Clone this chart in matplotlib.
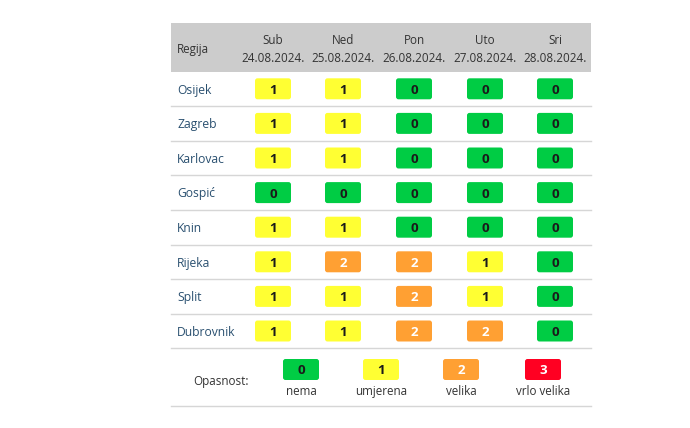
import matplotlib
matplotlib.use("Agg")
import matplotlib.pyplot as plt
from matplotlib.patches import FancyBboxPatch, Rectangle

plt.rcParams['font.family'] = ['Open Sans', 'DejaVu Sans']

# ---- data ----
regions = ["Osijek", "Zagreb", "Karlovac", "Gospić", "Knin", "Rijeka", "Split", "Dubrovnik"]
days = ["Sub", "Ned", "Pon", "Uto", "Sri"]
dates = ["24.08.2024.", "25.08.2024.", "26.08.2024.", "27.08.2024.", "28.08.2024."]
levels = [
    [1, 1, 0, 0, 0],
    [1, 1, 0, 0, 0],
    [1, 1, 0, 0, 0],
    [0, 0, 0, 0, 0],
    [1, 1, 0, 0, 0],
    [1, 2, 2, 1, 0],
    [1, 1, 2, 1, 0],
    [1, 1, 2, 2, 0],
]
legend_levels = [0, 1, 2, 3]
legend_labels = ["nema", "umjerena", "velika", "vrlo velika"]
header_label = "Regija"
legend_title = "Opasnost:"

# ---- style ----
fill = {0: "#00cc44", 1: "#ffff33", 2: "#ffa033", 3: "#ff0022"}
txtc = {0: "#1a1a1a", 1: "#1a1a1a", 2: "#ffffff", 3: "#ffffff"}

W, H = 690, 428
fig = plt.figure(figsize=(W / 100, H / 100), dpi=100)
ax = fig.add_axes([0, 0, 1, 1])
ax.set_xlim(0, W)
ax.set_ylim(H, 0)
ax.axis("off")

left, right = 171, 591
head_top, head_bot = 23, 71.5
row_h = 34.6
col_x = [273, 343, 414, 485, 555]
bw, bh = 36, 21
fs = 8.4

ax.add_patch(Rectangle((left, head_top), right - left, head_bot - head_top,
                       facecolor="#cccccc", edgecolor="none"))
ax.text(177, 52.5, header_label, fontsize=fs, color="#333333", va="baseline", ha="left")
for x, d, dt in zip(col_x, days, dates):
    ax.text(x, 43.5, d, fontsize=fs, color="#333333", va="baseline", ha="center")
    ax.text(x, 61.5, dt, fontsize=fs, color="#333333", va="baseline", ha="center")


def badge(cx, cy, lvl):
    ax.add_patch(FancyBboxPatch((cx - bw / 2 + 2.5, cy - bh / 2 + 2.5), bw - 5, bh - 5,
                                boxstyle="round,pad=2.5", facecolor=fill[lvl],
                                edgecolor="none"))
    ax.text(cx, cy + 5, str(lvl), fontsize=9.6, fontweight="bold", color=txtc[lvl],
            ha="center", va="baseline")


for i, (reg, row) in enumerate(zip(regions, levels)):
    top = head_bot + i * row_h
    cy = top + row_h / 2
    ax.text(177, cy + 4.8, reg, fontsize=fs + 0.3, color="#2a5070", va="baseline", ha="left")
    for x, lvl in zip(col_x, row):
        badge(x, cy, lvl)
    ax.plot([left, right], [top + row_h, top + row_h], color="#d6d6d6", lw=1)

ax.plot([left, right], [405.5, 405.5], color="#d6d6d6", lw=1)
ax.text(193, 384.5, legend_title, fontsize=fs, color="#333333", va="baseline", ha="left")
leg_x = [301, 381, 461, 543]
for x, lvl, lab in zip(leg_x, legend_levels, legend_labels):
    badge(x, 369.5, lvl)
    ax.text(x, 395, lab, fontsize=fs, color="#333333", va="baseline", ha="center")

fig.savefig("out.png", dpi=100, facecolor="white")
